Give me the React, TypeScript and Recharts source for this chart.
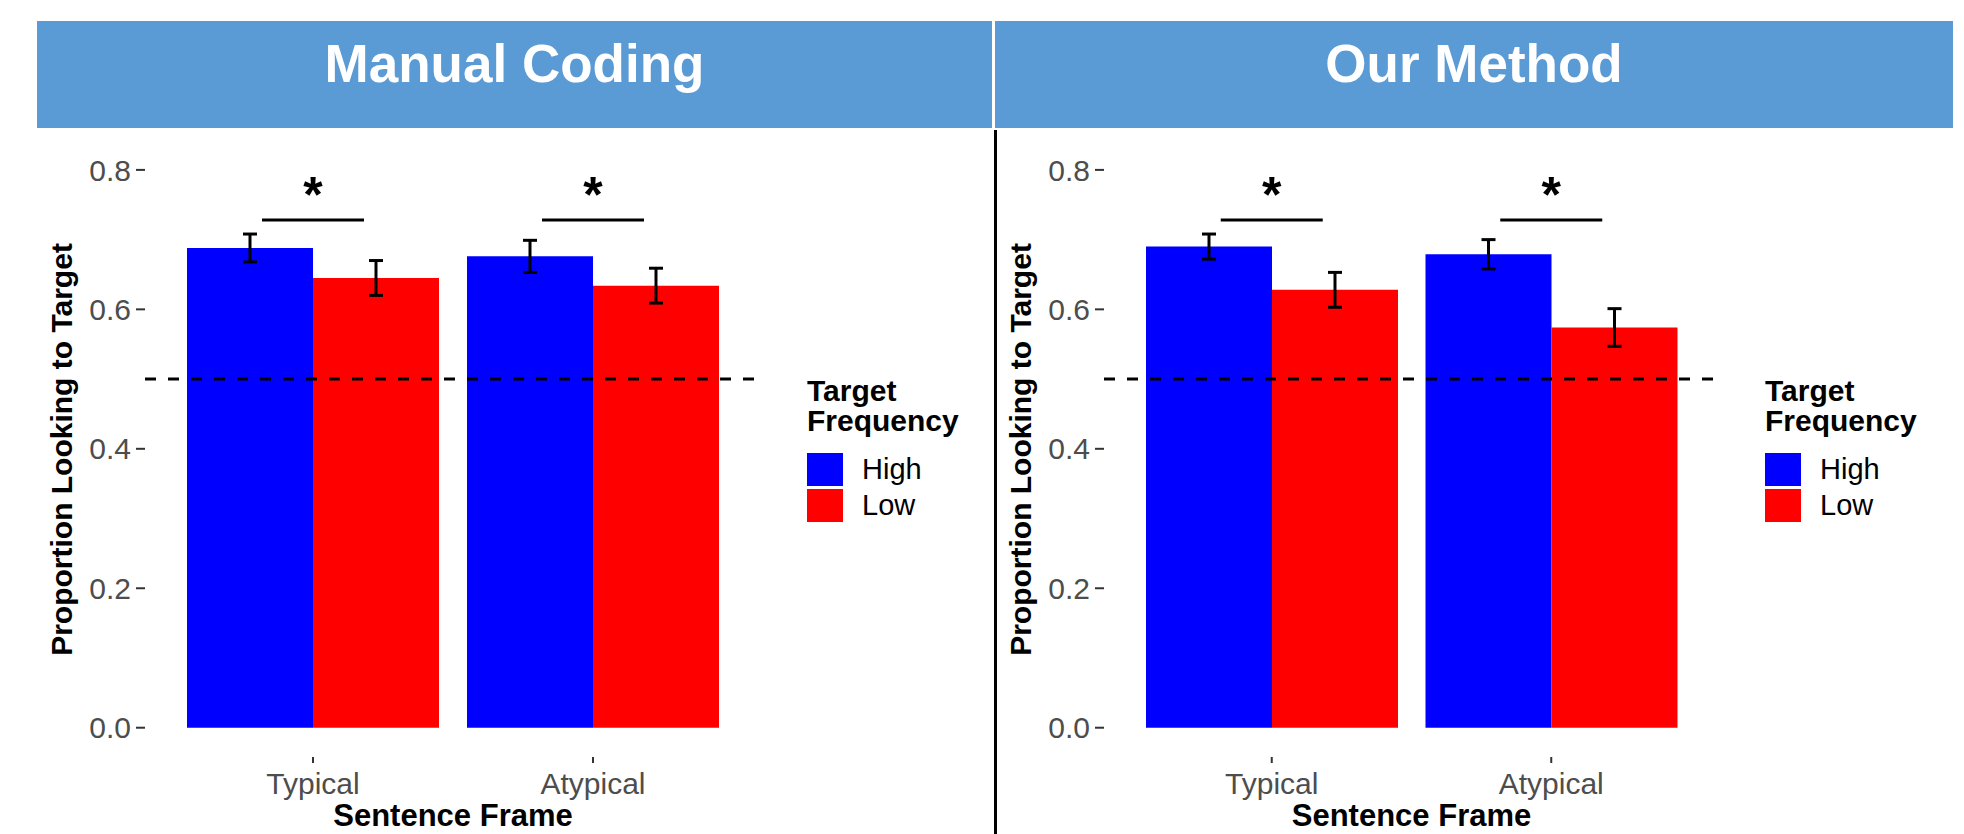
import React from 'react';
import {
  BarChart,
  Bar,
  XAxis,
  YAxis,
  ErrorBar,
  ReferenceLine,
  ReferenceDot,
  Legend,
  Label,
} from 'recharts';

// values (proportion of looking to target)
const frames = ['Typical', 'Atypical'];
const manualHigh = [0.688, 0.676];
const manualHighErr = [0.02, 0.023];
const manualLow = [0.645, 0.634];
const manualLowErr = [0.025, 0.025];
const methodHigh = [0.69, 0.679];
const methodHighErr = [0.018, 0.021];
const methodLow = [0.628, 0.574];
const methodLowErr = [0.025, 0.027];
const yTicks = [0, 0.2, 0.4, 0.6, 0.8];
const chanceLevel = 0.5;
const sigLevel = 0.728;
const sigLabel = '*';
const panelTitles = ['Manual Coding', 'Our Method'];
const legendTitle = ['Target', 'Frequency'];
const seriesNames = ['High', 'Low'];

const FONT = '"Liberation Sans", Arial, Helvetica, sans-serif';
const BLUE = '#0000FF';
const RED = '#FF0000';
const HEADER_BLUE = '#5B9BD5';
const H = 834;

const buildRows = (high: number[], highErr: number[], low: number[], lowErr: number[]) =>
  frames.map((frame, i) => ({
    frame,
    high: high[i],
    highErr: highErr[i],
    low: low[i],
    lowErr: lowErr[i],
  }));

const manualRows = buildRows(manualHigh, manualHighErr, manualLow, manualLowErr);
const methodRows = buildRows(methodHigh, methodHighErr, methodLow, methodLowErr);

const SigMark = (props: any) => {
  const { cx, cy } = props;
  if (cx == null || cy == null) return null;
  return (
    <g>
      <line x1={cx - 51} x2={cx + 51} y1={cy} y2={cy} stroke="#000" strokeWidth={3} />
      <text
        x={cx}
        y={cy - 8}
        textAnchor="middle"
        fontFamily={FONT}
        fontWeight="bold"
        fontSize={50}
        fill="#000"
      >
        {sigLabel}
      </text>
    </g>
  );
};

const YTitle = (props: any) => {
  const vb = props.viewBox || {};
  const x = vb.x + 26.5;
  const y = vb.y + vb.height / 2;
  return (
    <text
      x={x}
      y={y}
      transform={`rotate(-90, ${x}, ${y})`}
      textAnchor="middle"
      fontFamily={FONT}
      fontWeight="bold"
      fontSize={30}
      fill="#000"
    >
      Proportion Looking to Target
    </text>
  );
};

const XTitle = (props: any) => {
  const vb = props.viewBox || {};
  return (
    <text
      x={vb.x + vb.width / 2}
      y={vb.y + vb.height - 8}
      textAnchor="middle"
      fontFamily={FONT}
      fontWeight="bold"
      fontSize={31}
      fill="#000"
    >
      Sentence Frame
    </text>
  );
};

const LegendBox = (props: any) => {
  const { payload } = props;
  return (
    <div style={{ fontFamily: FONT, color: '#000' }}>
      <div style={{ fontSize: 30, fontWeight: 'bold', lineHeight: '30px' }}>
        {legendTitle[0]}
        <br />
        {legendTitle[1]}
      </div>
      <div style={{ marginTop: 17 }}>
        {(payload || []).map((p: any) => (
          <div
            key={p.value}
            style={{ display: 'flex', alignItems: 'center', height: 33, marginBottom: 3 }}
          >
            <div style={{ width: 36, height: 33, background: p.color }} />
            <span style={{ marginLeft: 19, fontSize: 29, lineHeight: '33px' }}>{p.value}</span>
          </div>
        ))}
      </div>
    </div>
  );
};

type PanelProps = {
  rows: any[];
  left: number;
  width: number;
  marginLeft: number;
  marginRight: number;
  legendLeft: number;
};

function Panel({ rows, left, width, marginLeft, marginRight, legendLeft }: PanelProps) {
  return (
    <div style={{ position: 'absolute', left, top: 0 }}>
      <BarChart
        width={width}
        height={H}
        data={rows}
        margin={{ top: 142, right: marginRight, bottom: 0, left: marginLeft }}
        barCategoryGap={14}
        barGap={0}
      >
        <XAxis
          dataKey="frame"
          padding={{ left: 28, right: 28 }}
          height={77}
          axisLine={false}
          tickSize={6}
          tickMargin={10}
          interval={0}
          tickLine={{ stroke: '#333333', strokeWidth: 2 }}
          tick={{ fill: '#4D4D4D', fontSize: 30, fontFamily: FONT }}
        >
          <Label content={XTitle} />
        </XAxis>
        <YAxis
          type="number"
          domain={[-0.042, 0.84]}
          allowDataOverflow
          ticks={yTicks}
          tickFormatter={(v: number) => v.toFixed(1)}
          width={100}
          axisLine={false}
          tickSize={9}
          tickMargin={5}
          tickLine={{ stroke: '#333333', strokeWidth: 2 }}
          tick={{ fill: '#4D4D4D', fontSize: 30, fontFamily: FONT }}
        >
          <Label content={YTitle} />
        </YAxis>
        <Bar dataKey="high" name={seriesNames[0]} fill={BLUE} isAnimationActive={false}>
          <ErrorBar dataKey="highErr" width={7} strokeWidth={3} stroke="#000" isAnimationActive={false} />
        </Bar>
        <Bar dataKey="low" name={seriesNames[1]} fill={RED} isAnimationActive={false}>
          <ErrorBar dataKey="lowErr" width={7} strokeWidth={3} stroke="#000" isAnimationActive={false} />
        </Bar>
        <ReferenceLine y={chanceLevel} stroke="#000" strokeWidth={3} strokeDasharray="11 12" />
        {frames.map((f) => (
          <ReferenceDot key={f} x={f} y={sigLevel} r={0} shape={SigMark} />
        ))}
        <Legend
          layout="vertical"
          align="center"
          verticalAlign="middle"
          content={LegendBox}
          wrapperStyle={{ left: legendLeft, top: 376, width: 190 }}
        />
      </BarChart>
    </div>
  );
}

const headerStyle = (left: number, width: number): React.CSSProperties => ({
  position: 'absolute',
  left,
  top: 21,
  width,
  height: 107,
  background: HEADER_BLUE,
  color: '#fff',
  fontFamily: FONT,
  fontWeight: 'bold',
  fontSize: 53,
  lineHeight: '53px',
  textAlign: 'center',
  paddingTop: 16,
  boxSizing: 'border-box',
});

export default function App() {
  return (
    <div
      style={{
        position: 'absolute',
        left: 0,
        top: 0,
        width: 1964,
        height: H,
        background: '#fff',
        overflow: 'hidden',
      }}
    >
      <Panel rows={manualRows} left={0} width={996} marginLeft={45} marginRight={235} legendLeft={807} />
      <Panel rows={methodRows} left={996} width={968} marginLeft={8} marginRight={245} legendLeft={769} />
      <div style={headerStyle(37, 955)}>{panelTitles[0]}</div>
      <div style={headerStyle(995, 958)}>{panelTitles[1]}</div>
      <div style={{ position: 'absolute', left: 994, top: 130, width: 2.5, height: H - 130, background: '#000' }} />
    </div>
  );
}
